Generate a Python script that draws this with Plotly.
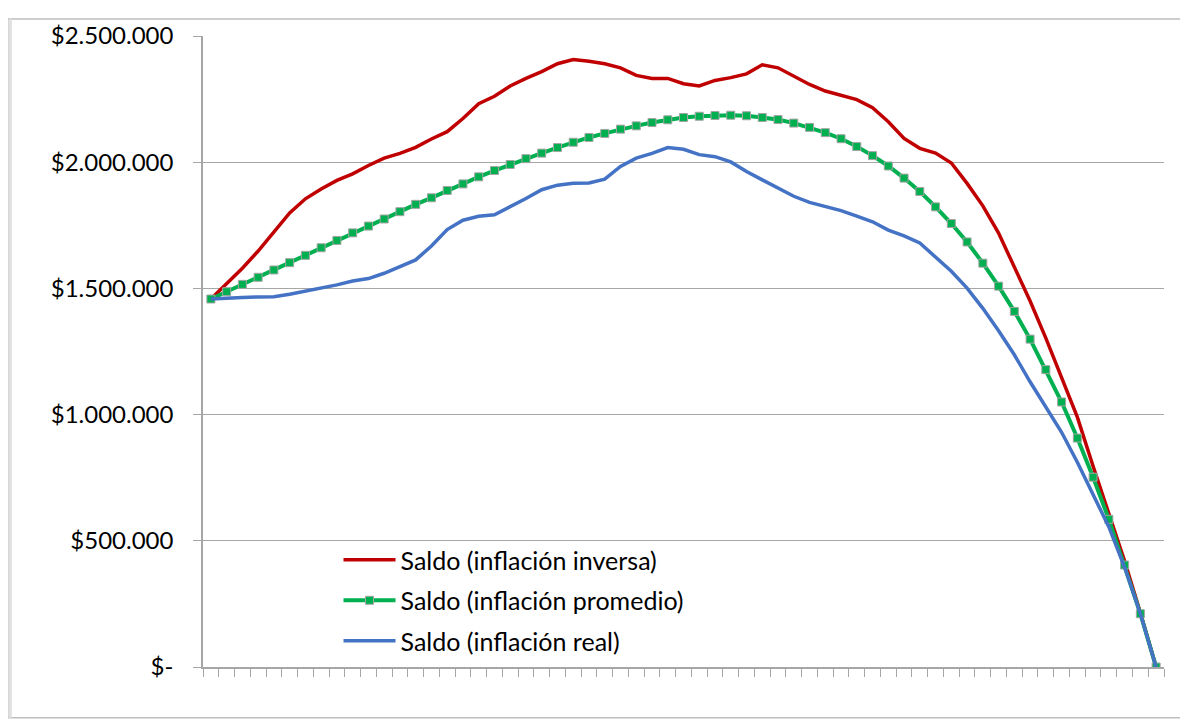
import plotly.graph_objects as go

# Saldo por periodo (61 periodos, sin etiquetas en el eje X)
periodos = list(range(61))

saldo_inversa = [
    1458000, 1521000, 1580000, 1648000, 1723000, 1799000, 1855000, 1894000, 1928000, 1954000,
    1987000, 2016000, 2035000, 2059000, 2092000, 2121000, 2173000, 2232000, 2261000, 2302000,
    2332000, 2359000, 2390000, 2407000, 2400000, 2390000, 2374000, 2344000, 2332000, 2332000,
    2311000, 2302000, 2324000, 2335000, 2350000, 2386000, 2374000, 2341000, 2308000, 2282000,
    2266000, 2248000, 2216000, 2160000, 2094000, 2055000, 2036000, 1997000, 1916000, 1827000,
    1719000, 1585000, 1450000, 1303000, 1142000, 990000, 795000, 610000, 420000, 215000, 0,
]

saldo_promedio = [
    1458000, 1487000, 1516000, 1544000, 1573000, 1602000, 1631000, 1661000, 1690000, 1720000,
    1747000, 1775000, 1804000, 1833000, 1859000, 1888000, 1914000, 1942000, 1967000, 1991000,
    2014000, 2036000, 2058000, 2079000, 2098000, 2114000, 2131000, 2144000, 2157000, 2168000,
    2177000, 2182000, 2185000, 2186000, 2184000, 2177000, 2169000, 2155000, 2138000, 2117000,
    2093000, 2062000, 2026000, 1985000, 1937000, 1884000, 1823000, 1757000, 1684000, 1600000,
    1509000, 1409000, 1299000, 1178000, 1050000, 907000, 752000, 585000, 404000, 211000, 0,
]

saldo_real = [
    1458000, 1462000, 1464000, 1466000, 1467000, 1477000, 1489000, 1502000, 1514000, 1529000,
    1539000, 1560000, 1585000, 1613000, 1668000, 1733000, 1770000, 1786000, 1792000, 1823000,
    1856000, 1891000, 1909000, 1917000, 1918000, 1933000, 1983000, 2016000, 2035000, 2058000,
    2051000, 2030000, 2022000, 2001000, 1963000, 1930000, 1896000, 1865000, 1841000, 1825000,
    1808000, 1786000, 1764000, 1731000, 1708000, 1680000, 1626000, 1568000, 1501000, 1421000,
    1332000, 1237000, 1130000, 1028000, 930000, 811000, 680000, 555000, 395000, 211000, 0,
]

y_ticks = [0, 500000, 1000000, 1500000, 2000000, 2500000]
y_labels = ["$-", "$500.000", "$1.000.000", "$1.500.000", "$2.000.000", "$2.500.000"]

FONT = "Lato, 'Liberation Sans', sans-serif"

fig = go.Figure()

fig.add_trace(go.Scatter(
    x=periodos, y=saldo_inversa, mode="lines",
    name="Saldo (inflación inversa)", legendgroup="a",
    line=dict(color="#C00000", width=3.5),
))
fig.add_trace(go.Scatter(
    x=periodos, y=saldo_promedio, mode="lines+markers",
    name="Saldo (inflación promedio)", legendgroup="b",
    line=dict(color="#00B050", width=4),
    marker=dict(symbol="square", size=8, color="#00B050",
                line=dict(color="#A5A5A5", width=1)),
))
fig.add_trace(go.Scatter(
    x=periodos, y=saldo_real, mode="lines",
    name="Saldo (inflación real)", legendgroup="c",
    line=dict(color="#4472C4", width=3.5),
))

# tick marks between categories, like the original spreadsheet chart
bordes = [p - 0.5 for p in periodos] + [periodos[-1] + 0.5]

fig.update_xaxes(
    range=[-0.5, 60.5], tickvals=bordes, showticklabels=False,
    ticks="outside", ticklen=8, tickcolor="#A6A6A6", tickwidth=1,
    showgrid=False, zeroline=False,
    showline=True, linecolor="#A6A6A6", linewidth=1.5,
)
fig.update_yaxes(
    range=[0, 2500000], tickvals=y_ticks, ticktext=y_labels,
    ticks="outside", ticklen=8, tickcolor="#A6A6A6", tickwidth=1,
    showgrid=True, gridcolor="#A6A6A6", gridwidth=1.3, zeroline=False,
    showline=True, linecolor="#A6A6A6", linewidth=1.5,
    ticklabelstandoff=15,
    tickfont=dict(family=FONT, size=24, color="#000000"),
)

# chart frame
fig.add_shape(type="rect", xref="paper", yref="paper",
              x0=-0.203, x1=1.025, y0=-0.0803, y1=1.0268,
              line=dict(color="#BFBFBF", width=1.5), layer="below")
fig.add_shape(type="line", xref="paper", yref="paper",
              x0=-0.2005, x1=-0.2005, y0=-0.0803, y1=1.0268,
              line=dict(color="#E0E0E0", width=3), layer="below")

# the page body adds 8px, so margins are shifted by that amount
fig.update_layout(
    width=1188, height=722,
    margin=dict(l=195, r=32, t=24, b=63),
    paper_bgcolor="white", plot_bgcolor="white",
    font=dict(family=FONT, color="#000000"),
    showlegend=True,
    legend=dict(
        x=0.141, y=0.206, xanchor="left", yanchor="top",
        bgcolor="rgba(0,0,0,0)", tracegroupgap=5, itemwidth=52,
        font=dict(family=FONT, size=25, color="#000000"),
    ),
)

fig.write_html("out.html")
